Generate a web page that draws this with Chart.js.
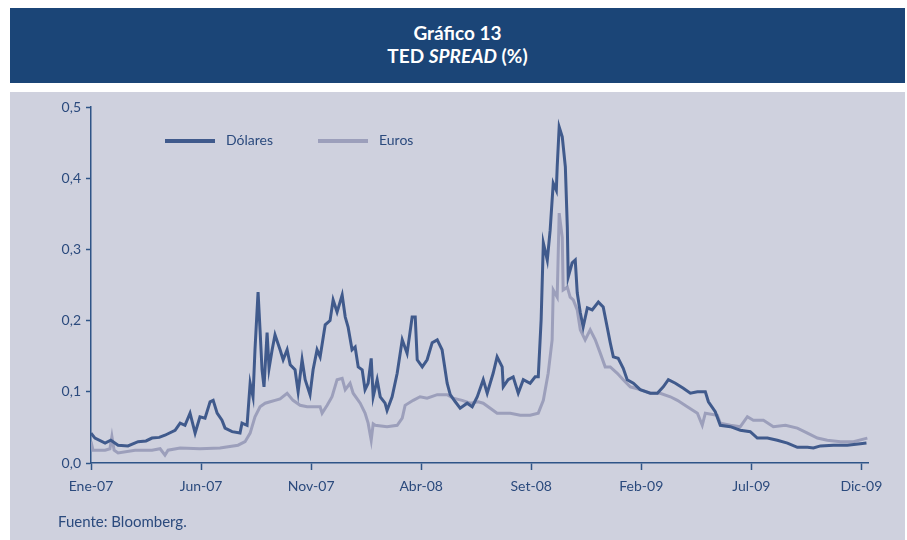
<!DOCTYPE html>
<html>
<head>
<meta charset="utf-8">
<script src="https://cdn.jsdelivr.net/npm/chart.js@4/dist/chart.umd.min.js"></script>
<style>
   body { margin: 0; background: #fff; width: 907px; height: 540px; position: relative; overflow: hidden; font-family: Lato, "Open Sans", sans-serif; }
   #header { position: absolute; left: 10px; top: 8px; width: 895px; height: 75px; background: #1b4577; color: #fff; text-align: center; font-weight: bold; font-size: 19px; line-height: 23px; }
   #header .l1 { padding-top: 13px; }
   #panel { position: absolute; left: 10px; top: 92px; width: 895px; height: 448px; background: #cfd1de; }
   #chartBox { position: absolute; left: 0; top: 0; width: 895px; height: 448px; }
   .legend { position: absolute; top: 39px; font-size: 14px; color: #2b4a7d; }
   .legend span.sw { display: inline-block; width: 50px; height: 4px; vertical-align: middle; margin-right: 11px; }
   #source { position: absolute; left: 48px; top: 420px; font-size: 15px; color: #2b4a7d; }
</style>
</head>
<body>
<div id="header">
   <div class="l1">Gráfico 13</div>
   <div>TED <i>SPREAD</i> (%)</div>
</div>
<div id="panel">
   <div id="chartBox"><canvas id="tedChart"></canvas></div>
   <div class="legend" style="left:155px"><span class="sw" style="background:#405a8c"></span>Dólares</div>
   <div class="legend" style="left:308px"><span class="sw" style="background:#9c9fbb"></span>Euros</div>
   <div id="source">Fuente: Bloomberg.</div>
</div>
<script>
// months counted from Jan-2007 (0 = Ene-07)
const xTickValues = [0, 5, 10, 15, 20, 25, 30, 35];
const xTickLabels = ['Ene-07', 'Jun-07', 'Nov-07', 'Abr-08', 'Set-08', 'Feb-09', 'Jul-09', 'Dic-09'];

const dolMeses = [0, 0.18, 0.64, 0.9, 1.23, 1.68, 2.14, 2.5, 2.77, 3.1, 3.36, 3.82, 4.05, 4.27, 4.5, 4.73, 4.95, 5.18, 5.41, 5.55, 5.73,
   5.95, 6.09, 6.41, 6.77, 6.86, 7.09, 7.23, 7.36, 7.45, 7.59, 7.68, 7.77, 7.86, 8.0, 8.09, 8.23, 8.36, 8.59, 8.73,
   8.91, 9.05, 9.27, 9.41, 9.59, 9.73, 9.95, 10.09, 10.27, 10.41, 10.64, 10.86, 11.0, 11.18, 11.41, 11.55, 11.68,
   11.86, 12.0, 12.14, 12.32, 12.45, 12.59, 12.73, 12.82, 13.0, 13.14, 13.36, 13.45, 13.68, 13.91, 14.14, 14.36,
   14.59, 14.73, 14.82, 15.05, 15.27, 15.5, 15.73, 15.95, 16.18, 16.32, 16.55, 16.77, 17.09, 17.32, 17.55, 17.82,
   18.0, 18.27, 18.45, 18.68, 18.73, 18.95, 19.18, 19.41, 19.64, 19.95, 20.18, 20.32, 20.45, 20.55, 20.73, 20.86,
   21.0, 21.14, 21.18, 21.27, 21.41, 21.55, 21.64, 21.68, 21.86, 22.0, 22.09, 22.23, 22.36, 22.55, 22.77, 23.05,
   23.27, 23.45, 23.59, 23.73, 23.95, 24.18, 24.36, 24.64, 24.95, 25.41, 25.73, 26.0, 26.23, 26.55, 26.91, 27.23,
   27.55, 27.91, 28.05, 28.36, 28.59, 29.05, 29.5, 29.95, 30.27, 30.73, 31.18, 31.64, 32.09, 32.55, 32.82, 33.14,
   33.73, 34.36, 34.95, 35.23];
const dolValores = [0.042, 0.035, 0.028, 0.032, 0.025, 0.024, 0.03, 0.031, 0.035, 0.036, 0.039, 0.046, 0.056, 0.053, 0.07, 0.042, 0.065,
   0.063, 0.086, 0.088, 0.07, 0.06, 0.049, 0.044, 0.042, 0.056, 0.053, 0.112, 0.093, 0.159, 0.24, 0.187, 0.131,
   0.107, 0.183, 0.133, 0.159, 0.18, 0.159, 0.145, 0.159, 0.138, 0.131, 0.1, 0.145, 0.117, 0.096, 0.131, 0.159,
   0.149, 0.194, 0.2, 0.229, 0.212, 0.236, 0.205, 0.191, 0.159, 0.163, 0.135, 0.131, 0.103, 0.112, 0.147, 0.093,
   0.117, 0.093, 0.084, 0.074, 0.093, 0.126, 0.173, 0.154, 0.205, 0.205, 0.145, 0.135, 0.145, 0.169, 0.173, 0.159,
   0.112, 0.096, 0.086, 0.077, 0.084, 0.079, 0.093, 0.117, 0.098, 0.126, 0.149, 0.135, 0.107, 0.117, 0.121, 0.098,
   0.117, 0.112, 0.121, 0.121, 0.201, 0.309, 0.285, 0.327, 0.393, 0.383, 0.416, 0.472, 0.458, 0.416, 0.331, 0.261,
   0.281, 0.285, 0.239, 0.211, 0.191, 0.218, 0.215, 0.226, 0.219, 0.191, 0.169, 0.149, 0.147, 0.133, 0.117, 0.112,
   0.103, 0.098, 0.098, 0.107, 0.117, 0.112, 0.105, 0.098, 0.1, 0.1, 0.086, 0.072, 0.053, 0.051, 0.046, 0.044,
   0.035, 0.035, 0.032, 0.028, 0.022, 0.022, 0.021, 0.024, 0.025, 0.025, 0.027, 0.028];

const eurMeses = [0, 0.09, 0.64, 0.86, 0.95, 1.05, 1.23, 2.0, 2.77, 3.14, 3.36, 3.5, 4.05, 4.95, 5.86, 6.68, 7.0, 7.23, 7.45, 7.68,
   7.91, 8.14, 8.36, 8.59, 8.91, 9.18, 9.5, 9.82, 10.41, 10.5, 10.73, 10.95, 11.18, 11.41, 11.55, 11.77, 11.91,
   12.23, 12.45, 12.59, 12.73, 12.82, 12.91, 13.45, 13.91, 14.14, 14.27, 14.64, 14.95, 15.27, 15.73, 16.18, 16.45,
   16.86, 17.23, 17.59, 17.82, 18.45, 19.05, 19.5, 19.95, 20.32, 20.55, 20.77, 20.95, 21.0, 21.18, 21.27, 21.41,
   21.45, 21.64, 21.77, 21.91, 22.09, 22.23, 22.45, 22.68, 22.91, 23.14, 23.36, 23.59, 23.91, 24.18, 24.5, 24.95,
   25.41, 25.86, 26.32, 26.64, 27.09, 27.55, 27.77, 27.91, 28.45, 28.59, 29.05, 29.5, 29.82, 30.09, 30.55, 31.0,
   31.55, 32.09, 32.55, 33.0, 33.45, 34.05, 34.64, 35.27];
const eurValores = [0.03, 0.018, 0.018, 0.02, 0.037, 0.018, 0.014, 0.018, 0.018, 0.02, 0.011, 0.018, 0.021, 0.02, 0.021, 0.025, 0.03,
   0.042, 0.065, 0.079, 0.084, 0.086, 0.088, 0.09, 0.098, 0.088, 0.081, 0.079, 0.079, 0.07, 0.081, 0.093, 0.117,
   0.119, 0.103, 0.112, 0.098, 0.084, 0.07, 0.056, 0.032, 0.055, 0.053, 0.051, 0.053, 0.063, 0.081, 0.088, 0.093,
   0.091, 0.096, 0.096, 0.091, 0.088, 0.084, 0.086, 0.084, 0.07, 0.07, 0.067, 0.067, 0.07, 0.088, 0.126, 0.173,
   0.243, 0.233, 0.351, 0.317, 0.243, 0.247, 0.233, 0.229, 0.215, 0.187, 0.173, 0.187, 0.173, 0.154, 0.135, 0.135,
   0.126, 0.117, 0.107, 0.103, 0.098, 0.098, 0.093, 0.088, 0.079, 0.07, 0.053, 0.07, 0.067, 0.056, 0.053, 0.051,
   0.065, 0.06, 0.06, 0.051, 0.053, 0.049, 0.042, 0.035, 0.032, 0.03, 0.03, 0.035];

function toPoints(meses, valores) {
   return meses.map((m, i) => ({ x: m, y: valores[i] }));
}

const axisColor = '#2e5487';
const textColor = '#2b4a7d';

const ctx = document.getElementById('tedChart').getContext('2d');
const chart = new Chart(ctx, {
   type: 'line',
   data: {
      datasets: [
         { label: 'Dólares', data: toPoints(dolMeses, dolValores), borderColor: '#405a8c', borderWidth: 3, pointRadius: 0, tension: 0 },
         { label: 'Euros', data: toPoints(eurMeses, eurValores), borderColor: '#9c9fbb', borderWidth: 3, pointRadius: 0, tension: 0 }
      ]
   },
   options: {
      responsive: true,
      maintainAspectRatio: false,
      animation: false,
      layout: { padding: { top: 15, right: 37, left: 0, bottom: 0 } },
      plugins: {
         legend: { display: false },
         tooltip: { enabled: false }
      },
      scales: {
         x: {
            type: 'linear',
            min: 0,
            max: 35.3,
            grid: { drawOnChartArea: false, color: axisColor, tickLength: 7, tickWidth: 1.5 },
            border: { color: axisColor, width: 1.5 },
            afterBuildTicks: function (scale) {
               scale.ticks = xTickValues.map(v => ({ value: v }));
            },
            ticks: {
               autoSkip: false,
               maxRotation: 0,
               padding: 8,
               color: textColor,
               font: { family: 'Lato', size: 14 },
               callback: function (v) { return xTickLabels[xTickValues.indexOf(v)]; }
            },
            afterFit: function (scale) { scale.height = 77; }
         },
         y: {
            min: 0,
            max: 0.5,
            grid: { drawOnChartArea: false, color: axisColor, tickLength: 5, tickWidth: 1.5 },
            border: { color: axisColor, width: 1.5 },
            ticks: {
               stepSize: 0.1,
               padding: 5,
               color: textColor,
               font: { family: 'Lato', size: 14 },
               callback: function (v) { return v.toFixed(1).replace('.', ','); }
            },
            afterFit: function (scale) { scale.width = 81; }
         }
      }
   }
});
</script>
</body>
</html>
